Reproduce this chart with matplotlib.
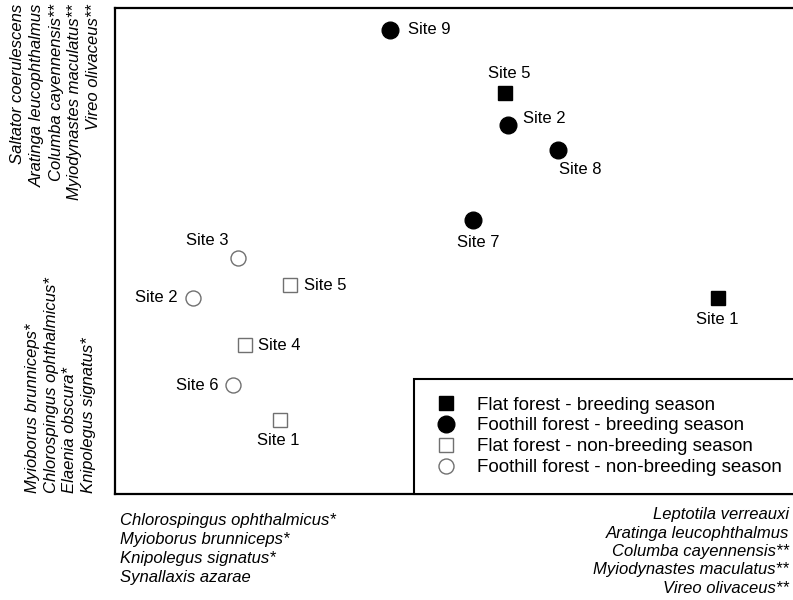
import matplotlib.pyplot as plt

plt.rcParams['font.family'] = ['Liberation Sans', 'DejaVu Sans']

# ordination scores
flat_br_sites = ['Site 5', 'Site 1']
flat_br_x = [0.22, 1.07]
flat_br_y = [0.83, 0.01]

foot_br_sites = ['Site 9', 'Site 2', 'Site 8', 'Site 7']
foot_br_x = [-0.24, 0.23, 0.43, 0.09]
foot_br_y = [1.08, 0.70, 0.60, 0.32]

flat_nb_sites = ['Site 5', 'Site 4', 'Site 1']
flat_nb_x = [-0.64, -0.82, -0.68]
flat_nb_y = [0.06, -0.18, -0.48]

foot_nb_sites = ['Site 3', 'Site 2', 'Site 6']
foot_nb_x = [-0.85, -1.03, -0.87]
foot_nb_y = [0.17, 0.01, -0.34]

group_labels = ['Flat forest - breeding season',
                'Foothill forest - breeding season',
                'Flat forest - non-breeding season',
                'Foothill forest - non-breeding season']

# species correlated with the axes
y_top_species = ['Saltator coerulescens', 'Aratinga leucophthalmus',
                 'Columba cayennensis**', 'Myiodynastes maculatus**',
                 'Vireo olivaceus**']
y_bottom_species = ['Myioborus brunniceps*', 'Chlorospingus ophthalmicus*',
                    'Elaenia obscura*', 'Knipolegus signatus*']
x_left_species = ['Chlorospingus ophthalmicus*', 'Myioborus brunniceps*',
                  'Knipolegus signatus*', 'Synallaxis azarae']
x_right_species = ['Leptotila verreauxi', 'Aratinga leucophthalmus',
                   'Columba cayennensis**', 'Myiodynastes maculatus**',
                   'Vireo olivaceus**']

W, H = 793, 600
fig = plt.figure(figsize=(W / 100, H / 100), dpi=100)
ax = fig.add_axes([115 / W, 1 - 494 / H, (800 - 115) / W, (494 - 8) / H])

ax.plot(flat_br_x, flat_br_y, ls='none', marker='s', ms=10.5,
        color='black', label=group_labels[0])
ax.plot(foot_br_x, foot_br_y, ls='none', marker='o', ms=12,
        color='black', label=group_labels[1])
ax.plot(flat_nb_x, flat_nb_y, ls='none', marker='s', ms=10.5,
        mfc='white', mec='#707070', mew=1.0, label=group_labels[2])
ax.plot(foot_nb_x, foot_nb_y, ls='none', marker='o', ms=10.8,
        mfc='white', mec='#707070', mew=1.0, label=group_labels[3])

# label placement: (dx, dy in points, ha)
offs = {
    'flat_br': [(3, 14, 'center'), (0, -16, 'center')],
    'foot_br': [(13, 0, 'left'), (11, 5, 'left'), (1, -14, 'left'), (4, -16, 'center')],
    'flat_nb': [(10, 0, 'left'), (9, 0, 'left'), (-1, -15, 'center')],
    'foot_nb': [(-22, 12, 'center'), (-11, 0, 'right'), (-10, 0, 'right')],
}
groups = {
    'flat_br': (flat_br_sites, flat_br_x, flat_br_y),
    'foot_br': (foot_br_sites, foot_br_x, foot_br_y),
    'flat_nb': (flat_nb_sites, flat_nb_x, flat_nb_y),
    'foot_nb': (foot_nb_sites, foot_nb_x, foot_nb_y),
}
for key, (names, xs, ys) in groups.items():
    for name, x, y, (dx, dy, ha) in zip(names, xs, ys, offs[key]):
        ax.annotate(name, (x, y), xytext=(dx, dy), textcoords='offset points',
                    ha=ha, va='center', fontsize=12)

ax.set_xlim(-1.34, 1.40)
ax.set_ylim(-0.776, 1.168)
ax.set_xticks([])
ax.set_yticks([])
for sp in ax.spines.values():
    sp.set_linewidth(1.6)

leg = ax.legend(loc='lower right', borderaxespad=0, fancybox=False,
                edgecolor='black', framealpha=1, fontsize=13.5,
                numpoints=1, labelspacing=0.2, borderpad=0.95,
                handlelength=1.6, handletextpad=0.85)
leg.get_frame().set_linewidth(1.5)

# species text around the axes
for i, s in enumerate(y_top_species):
    fig.text((18 + i * 19) / W, 1 - 4 / H, s, rotation=90, ha='center',
             va='top', fontsize=12, style='italic')
for i, s in enumerate(y_bottom_species):
    fig.text((33 + i * 18.5) / W, 1 - 493 / H, s, rotation=90, ha='center',
             va='bottom', fontsize=12, style='italic')
for i, s in enumerate(x_left_species):
    fig.text(120 / W, 1 - (520 + i * 19.3) / H, s, ha='left', va='center',
             fontsize=12, style='italic')
for i, s in enumerate(x_right_species):
    fig.text(789 / W, 1 - (515 + i * 18.3) / H, s, ha='right', va='center',
             fontsize=12, style='italic')

fig.savefig('out.png', dpi=100)
